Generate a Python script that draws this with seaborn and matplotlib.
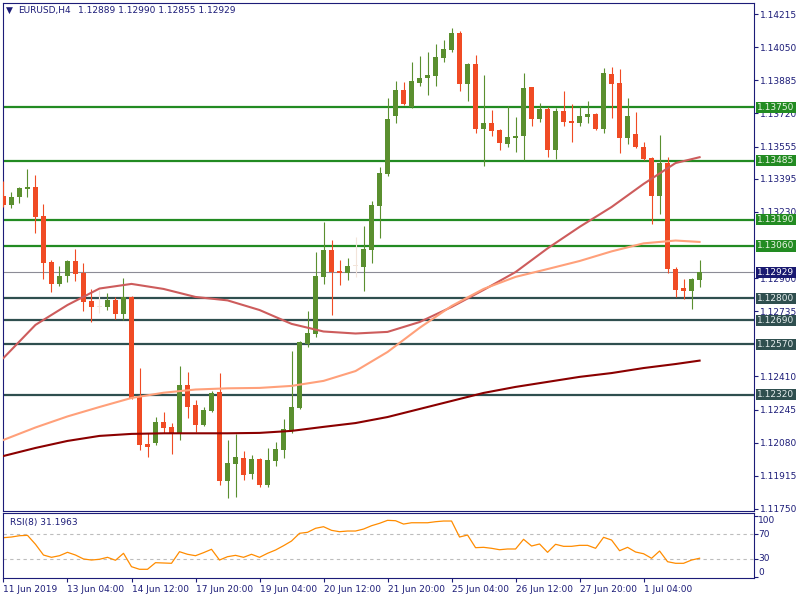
import numpy as np
import pandas as pd
import matplotlib
matplotlib.use("Agg")
import matplotlib.pyplot as plt
import matplotlib.transforms as mtransforms
import seaborn as sns

symbol = "EURUSD,H4"

opens = [
    1.13309, 1.13264, 1.13302, 1.13345, 1.13355, 1.13209, 1.12980, 1.12872, 1.12912, 1.12985,
    1.12925, 1.12786, 1.12758, 1.12756, 1.12791, 1.12723, 1.12807, 1.12313, 1.12074, 1.12080,
    1.12183, 1.12157, 1.12125, 1.12368, 1.12268, 1.12168, 1.12240, 1.12333, 1.11891, 1.11976,
    1.12004, 1.11925, 1.11999, 1.11870, 1.11989, 1.12044, 1.12144, 1.12255, 1.12572, 1.12622,
    1.12906, 1.13040, 1.12937, 1.12927, 1.12960, 1.12957, 1.13040, 1.13261, 1.13418, 1.13709,
    1.13837, 1.13754, 1.13873, 1.13898, 1.13907, 1.13998, 1.14036, 1.14122, 1.13868, 1.13966,
    1.13643, 1.13672, 1.13638, 1.13568, 1.13599, 1.13608, 1.13850, 1.13692, 1.13744, 1.13538,
    1.13732, 1.13684, 1.13674, 1.13704, 1.13717, 1.13643, 1.13916, 1.13873, 1.13599, 1.13618,
    1.13554, 1.13498, 1.13310, 1.13472, 1.12944, 1.12849, 1.12837, 1.12889]
highs = [
    1.13384, 1.13330, 1.13355, 1.13443, 1.13414, 1.13269, 1.12990, 1.12960, 1.12990, 1.13045,
    1.12975, 1.12846, 1.12841, 1.12824, 1.12805, 1.12901, 1.12812, 1.12451, 1.12127, 1.12210,
    1.12235, 1.12178, 1.12462, 1.12432, 1.12293, 1.12260, 1.12339, 1.12429, 1.12094, 1.12122,
    1.12039, 1.12019, 1.12006, 1.12052, 1.12084, 1.12198, 1.12537, 1.12587, 1.12736, 1.13032,
    1.13179, 1.13090, 1.12990, 1.13000, 1.13103, 1.13160, 1.13284, 1.13455, 1.13798, 1.13882,
    1.13878, 1.13975, 1.14006, 1.14028, 1.14064, 1.14086, 1.14147, 1.14132, 1.13970, 1.14011,
    1.13912, 1.13737, 1.13643, 1.13757, 1.13704, 1.13923, 1.13853, 1.13774, 1.13751, 1.13746,
    1.13833, 1.13767, 1.13757, 1.13782, 1.13721, 1.13948, 1.13953, 1.13941, 1.13797, 1.13726,
    1.13579, 1.13505, 1.13613, 1.13505, 1.12954, 1.12896, 1.12900, 1.12990]
lows = [
    1.13254, 1.13251, 1.13273, 1.13302, 1.13126, 1.12897, 1.12832, 1.12862, 1.12882, 1.12887,
    1.12738, 1.12683, 1.12728, 1.12743, 1.12696, 1.12693, 1.12300, 1.12044, 1.12011, 1.12069,
    1.12127, 1.12026, 1.12094, 1.12205, 1.12135, 1.12164, 1.12235, 1.11870, 1.11807, 1.11812,
    1.11895, 1.11901, 1.11861, 1.11860, 1.11964, 1.12006, 1.12127, 1.12250, 1.12558, 1.12608,
    1.12871, 1.12716, 1.12866, 1.12891, 1.12907, 1.12836, 1.12977, 1.13101, 1.13410, 1.13671,
    1.13762, 1.13746, 1.13857, 1.13812, 1.13857, 1.13978, 1.14028, 1.13833, 1.13784, 1.13624,
    1.13460, 1.13609, 1.13538, 1.13554, 1.13527, 1.13488, 1.13658, 1.13679, 1.13505, 1.13492,
    1.13658, 1.13579, 1.13658, 1.13674, 1.13638, 1.13621, 1.13696, 1.13525, 1.13568, 1.13549,
    1.13488, 1.13168, 1.13218, 1.12924, 1.12807, 1.12798, 1.12748, 1.12855]
closes = [
    1.13264, 1.13305, 1.13349, 1.13355, 1.13206, 1.12977, 1.12872, 1.12911, 1.12985, 1.12922,
    1.12783, 1.12756, 1.12758, 1.12791, 1.12723, 1.12807, 1.12305, 1.12069, 1.12060, 1.12183,
    1.12155, 1.12125, 1.12368, 1.12260, 1.12168, 1.12243, 1.12329, 1.11891, 1.11978, 1.12009,
    1.11921, 1.11999, 1.11870, 1.11994, 1.12049, 1.12149, 1.12258, 1.12583, 1.12628, 1.12911,
    1.13040, 1.12932, 1.12927, 1.12960, 1.12960, 1.13045, 1.13264, 1.13425, 1.13692, 1.13837,
    1.13767, 1.13882, 1.13897, 1.13913, 1.14003, 1.14041, 1.14122, 1.13868, 1.13966, 1.13644,
    1.13674, 1.13634, 1.13574, 1.13604, 1.13609, 1.13848, 1.13694, 1.13744, 1.13538, 1.13732,
    1.13679, 1.13674, 1.13707, 1.13717, 1.13643, 1.13923, 1.13868, 1.13599, 1.13707, 1.13553,
    1.13492, 1.13310, 1.13472, 1.12944, 1.12842, 1.12837, 1.12896, 1.12929]

# moving averages, read at every 4th bar
ma_idx = [0, 4, 8, 12, 16, 20, 24, 28, 32, 36, 40, 44, 48, 52, 56, 60, 64, 68, 72, 76, 80, 84, 87]
ma_fast = [1.12502, 1.12667, 1.12766, 1.12848, 1.12871, 1.12846, 1.12806, 1.12789, 1.12741, 1.12672,
           1.12634, 1.12624, 1.12632, 1.12681, 1.12756, 1.12841, 1.12930, 1.13048, 1.13155, 1.13254,
           1.13369, 1.13473, 1.13502]
ma_mid = [1.12094, 1.12156, 1.12211, 1.12258, 1.12303, 1.12329, 1.12345, 1.12351, 1.12353, 1.12363,
          1.12388, 1.12437, 1.12532, 1.12652, 1.12761, 1.12846, 1.12906, 1.12945, 1.12985, 1.13033,
          1.13073, 1.13087, 1.13080]
ma_slow = [1.12014, 1.12054, 1.12089, 1.12114, 1.12124, 1.12127, 1.12127, 1.12127, 1.12129, 1.12139,
           1.12159, 1.12178, 1.12208, 1.12248, 1.12288, 1.12328, 1.12358, 1.12383, 1.12408, 1.12427,
           1.12452, 1.12472, 1.12489]

rsi = [64.5, 65.6, 67.7, 68.3, 53.8, 36.4, 32.7, 35.3, 40.8, 36.4,
       30.0, 28.3, 29.5, 32.7, 27.9, 39.2, 17.5, 13.3, 13.3, 24.0,
       23.5, 23.0, 41.8, 37.6, 35.3, 40.2, 45.7, 28.3, 33.7, 35.9,
       32.7, 37.6, 32.7, 39.2, 44.5, 51.5, 59.1, 71.6, 73.2, 79.7,
       82.3, 76.4, 74.2, 75.3, 75.3, 78.5, 83.9, 87.8, 92.6, 92.0,
       86.6, 88.7, 88.7, 88.7, 90.4, 91.5, 91.5, 65.6, 68.8, 48.3,
       48.9, 47.3, 45.0, 46.2, 46.2, 61.9, 51.0, 54.3, 40.8, 53.8,
       50.5, 50.5, 52.1, 52.1, 47.3, 65.1, 60.7, 43.4, 48.9, 41.3,
       38.5, 31.1, 42.9, 25.6, 23.0, 23.0, 28.3, 31.1963]

green_levels = [1.13750, 1.13485, 1.13190, 1.13060]
dark_levels = [1.12800, 1.12690, 1.12570, 1.12320]
bid = 1.12929

price_ticks = [1.14215, 1.14050, 1.13885, 1.13720, 1.13555, 1.13395, 1.13230,
               1.12900, 1.12735, 1.12410, 1.12245, 1.12080, 1.11915, 1.11750]
rsi_ticks = [100, 70, 30, 0]
date_ticks = [0, 8, 16, 24, 32, 40, 48, 56, 64, 72, 80]
date_labels = ["11 Jun 2019", "13 Jun 04:00", "14 Jun 12:00", "17 Jun 20:00", "19 Jun 04:00",
               "20 Jun 12:00", "21 Jun 20:00", "25 Jun 04:00", "26 Jun 12:00", "27 Jun 20:00",
               "1 Jul 04:00"]

UP = "#5A8F2F"
DOWN = "#F04B24"
DOJI = "#F2E4DA"
NAVY = "#1C1C78"
GREEN_LVL = "#228B22"
DARK_LVL = "#2F4F4F"

plt.rcParams["font.family"] = "DejaVu Sans"

df = pd.DataFrame({"open": opens, "high": highs, "low": lows, "close": closes})
df["x"] = np.arange(len(df))
colors = np.where(df["close"] > df["open"], UP, np.where(df["close"] < df["open"], DOWN, DOJI))

fig = plt.figure(figsize=(8, 6), dpi=100)
ax = fig.add_axes([0.00375, 0.14833, 0.93875, 0.84667])
ax_rsi = fig.add_axes([0.00375, 0.03617, 0.93875, 0.108])

# levels
for lv in green_levels:
    ax.axhline(lv, color=GREEN_LVL, lw=1.6, zorder=2)
for lv in dark_levels:
    ax.axhline(lv, color=DARK_LVL, lw=1.6, zorder=2)
ax.axhline(bid, color="#8C8C96", lw=0.8, zorder=2)

# candles
ax.vlines(df["x"], df["low"], df["high"], colors=colors, linewidth=0.8, zorder=3)
body = (df["close"] - df["open"]).abs().clip(lower=0.00004)
ax.bar(df["x"], body, bottom=np.minimum(df["open"], df["close"]), width=0.66,
       color=colors, linewidth=0, zorder=3)

# moving averages
sns.lineplot(x=ma_idx, y=ma_fast, ax=ax, color="#CD5C5C", linewidth=1.5, zorder=4)
sns.lineplot(x=ma_idx, y=ma_mid, ax=ax, color="#FFA07A", linewidth=1.5, zorder=4)
sns.lineplot(x=ma_idx, y=ma_slow, ax=ax, color="#8B0000", linewidth=1.5, zorder=4)

ax.set_xlim(-0.06, 93.8)
ax.set_ylim(1.11740, 1.14270)
ax.set_xlabel("")
ax.set_ylabel("")
ax.set_xticks([])
ax.yaxis.tick_right()
ax.set_yticks(price_ticks)
ax.set_yticklabels([f"{t:.5f}" for t in price_ticks])
ax.tick_params(axis="y", direction="out", length=3, width=0.8, colors=NAVY, labelsize=6.5, pad=1.5)

# boxed level labels
trans = mtransforms.blended_transform_factory(ax.transAxes, ax.transData)
for lv in green_levels:
    ax.text(1.0045, lv, f"{lv:.5f}", transform=trans, ha="left", va="center", fontsize=6.5,
            color="#EAF5E4", clip_on=False, zorder=10,
            bbox=dict(boxstyle="square,pad=0.12", fc=GREEN_LVL, ec="none"))
for lv in dark_levels:
    ax.text(1.0045, lv, f"{lv:.5f}", transform=trans, ha="left", va="center", fontsize=6.5,
            color="#E4ECEC", clip_on=False, zorder=10,
            bbox=dict(boxstyle="square,pad=0.12", fc=DARK_LVL, ec="none"))
ax.text(1.0045, bid, f"{bid:.5f}", transform=trans, ha="left", va="center", fontsize=6.5,
        color="white", clip_on=False, zorder=10,
        bbox=dict(boxstyle="square,pad=0.12", fc="#191970", ec="none"))

# header
fig.text(6 / 800, 1 - 10.5 / 600, "\u25BC", fontsize=6.5, color=NAVY, va="center")
fig.text(18 / 800, 1 - 10.7 / 600, symbol, fontsize=6.5, color=NAVY, va="center")
fig.text(78 / 800, 1 - 10.7 / 600,
         f"{opens[-1]:.5f} {highs[-1]:.5f} {lows[-1]:.5f} {closes[-1]:.5f}",
         fontsize=6.5, color=NAVY, va="center")

# RSI pane
ax_rsi.axhline(70, color="#BDBDBD", lw=0.8, ls=(0, (3, 3)))
ax_rsi.axhline(30, color="#BDBDBD", lw=0.8, ls=(0, (3, 3)))
sns.lineplot(x=list(range(len(rsi))), y=rsi, ax=ax_rsi, color="#FF8C00", linewidth=0.9)
ax_rsi.set_xlim(-0.06, 93.8)
ax_rsi.set_ylim(-1.3, 103.7)
ax_rsi.set_xlabel("")
ax_rsi.set_ylabel("")
ax_rsi.yaxis.tick_right()
ax_rsi.set_yticks(rsi_ticks)
ax_rsi.set_yticklabels([])
ax_rsi.set_xticks(date_ticks)
ax_rsi.set_xticklabels(date_labels)
for lab in ax_rsi.get_xticklabels():
    lab.set_ha("left")
ax_rsi.tick_params(axis="both", direction="out", length=3, width=0.8, colors=NAVY, labelsize=6.5, pad=1.5)

# the end labels of the RSI scale are pulled inside the pane, as the terminal does
rtrans = mtransforms.blended_transform_factory(ax_rsi.transAxes, ax_rsi.transData)
label_shift = {100: -4.5, 70: 0, 30: 0, 0: 4.5}
for t in rsi_ticks:
    off = mtransforms.ScaledTranslation(0, label_shift[t] / 100, fig.dpi_scale_trans)
    ax_rsi.text(1.0055, t, str(t), transform=rtrans + off, ha="left", va="center",
                fontsize=6.5, color=NAVY, clip_on=False)
ax_rsi.text(7 / 751, 0.86, f"RSI(8) {rsi[-1]:.4f}", transform=ax_rsi.transAxes,
            fontsize=6.5, color=NAVY, va="center")

for a in (ax, ax_rsi):
    for s in a.spines.values():
        s.set_color(NAVY)
        s.set_linewidth(0.8)

fig.savefig("out.png", dpi=100, facecolor="white")
